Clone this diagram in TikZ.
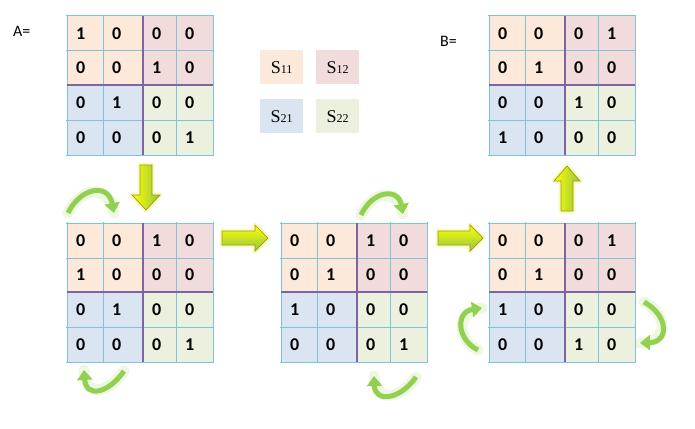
\documentclass[tikz,border=0pt]{standalone}
\usepackage{fontspec}
\setmainfont{Carlito}
\newfontfamily\legfont{Liberation Serif}
\usetikzlibrary{arrows.meta}
\definecolor{cA}{HTML}{FDE9D9}
\definecolor{cB}{HTML}{F2DCDB}
\definecolor{cC}{HTML}{DBE5F1}
\definecolor{cD}{HTML}{EBF1DE}
\definecolor{gridc}{HTML}{7EC4D8}
\definecolor{divc}{HTML}{8064A2}
\definecolor{lgreen}{HTML}{92D050}
\definecolor{olivec}{HTML}{9A9A10}
\tikzset{
  gridline/.style={draw=gridc, line width=1pt},
  divline/.style={draw=divc, line width=2pt},
  digit/.style={anchor=west, inner sep=0pt, font=\fontsize{18}{21}\selectfont\bfseries},
  lbl/.style={anchor=base west, inner sep=0pt, font=\fontsize{16}{19}\selectfont},
  legbox/.style={minimum width=43pt, minimum height=34pt, inner sep=0pt, anchor=north west},
  blockarrow/.style={draw=olivec, line width=0.7pt},
  glow/.style={draw=yellow!80!lgreen, line width=5pt, opacity=0.25, line join=round},
  curvearrow/.style={draw=lgreen, line width=5pt, -{Triangle[length=10pt,width=15pt]}},
  curveglow/.style={draw=lgreen, line width=11pt, opacity=0.16, line cap=round},
}
\newcommand\drawmat[3]{%
  \begin{scope}[shift={#2}]
    \fill[cA] (0,0) rectangle (76,69);
    \fill[cB] (76,0) rectangle (146,69);
    \fill[cC] (0,69) rectangle (76,139);
    \fill[cD] (76,69) rectangle (146,139);
    \foreach \xx in {0,36,109,146} \draw[gridline] (\xx,-1) -- (\xx,140);
    \foreach \yy in {0,35,104,139} \draw[gridline] (-1,\yy) -- (147,\yy);
    \draw[divline] (76,0) -- (76,139);
    \draw[divline] (0,69) -- (146,69);
    \foreach \v [count=\i from 0] in {#3} {
      \pgfmathtruncatemacro\rr{int(\i/4)}
      \pgfmathtruncatemacro\cc{mod(\i,4)}
      \pgfmathsetmacro\cx{{0,36,76,109}[\cc]+9}
      \pgfmathsetmacro\cy{{17.5,52,86.5,121.5}[\rr]}
      \node[digit] (#1-\i) at (\cx,\cy) {\v};
    }
  \end{scope}}
\begin{document}
\begin{tikzpicture}[x=1pt,y=-1pt]
\useasboundingbox (0,0) rectangle (695,428);
\fill[white] (0,0) rectangle (695,428);

% matrices
\drawmat{A}{(67,16)}{1,0,0,0, 0,0,1,0, 0,1,0,0, 0,0,0,1}
\drawmat{M}{(67,223)}{0,0,1,0, 1,0,0,0, 0,1,0,0, 0,0,0,1}
\drawmat{N}{(281,223)}{0,0,1,0, 0,1,0,0, 1,0,0,0, 0,0,0,1}
\drawmat{P}{(489,223)}{0,0,0,1, 0,1,0,0, 1,0,0,0, 0,0,1,0}
\drawmat{B}{(489,16)}{0,0,0,1, 0,1,0,0, 0,0,1,0, 1,0,0,0}

% labels
\node[lbl] (lA) at (13,37) {A=};
\node[lbl] (lB) at (440,46) {B=};

% legend
\node[legbox, fill=cA] (s11) at (260,50) {\legfont\fontsize{18}{20}\selectfont S\fontsize{12}{14}\selectfont 11};
\node[legbox, fill=cB] (s12) at (316,50) {\legfont\fontsize{18}{20}\selectfont S\fontsize{12}{14}\selectfont 12};
\node[legbox, fill=cC] (s21) at (260,99) {\legfont\fontsize{18}{20}\selectfont S\fontsize{12}{14}\selectfont 21};
\node[legbox, fill=cD] (s22) at (316,99) {\legfont\fontsize{18}{20}\selectfont S\fontsize{12}{14}\selectfont 22};

% block arrows
% down arrow
\draw[glow] (140,165) -- (152,165) -- (152,195) -- (160,195) -- (146,210) -- (132,195) -- (140,195) -- cycle;
\shade[left color=yellow, right color=lgreen!80!olivec, blockarrow]
  (140,165) -- (152,165) -- (152,195) -- (160,195) -- (146,210) -- (132,195) -- (140,195) -- cycle;
% up arrow
\draw[glow] (561,211) -- (573,211) -- (573,181) -- (580,181) -- (567,166) -- (554,181) -- (561,181) -- cycle;
\shade[left color=yellow, right color=lgreen!80!olivec, blockarrow]
  (561,211) -- (573,211) -- (573,181) -- (580,181) -- (567,166) -- (554,181) -- (561,181) -- cycle;
% right arrows
\foreach \sx/\hx/\tx in {222/255/268, 438/470/483} {
  \draw[glow] (\sx,231) -- (\hx,231) -- (\hx,225) -- (\tx,238) -- (\hx,251) -- (\hx,245) -- (\sx,245) -- cycle;
  \shade[top color=yellow, bottom color=lgreen!80!olivec, blockarrow]
    (\sx,231) -- (\hx,231) -- (\hx,225) -- (\tx,238) -- (\hx,251) -- (\hx,245) -- (\sx,245) -- cycle;
}

% curved arrows
\coordinate (c1s) at (68,213);  \coordinate (c1e) at (114,213);
\coordinate (c2s) at (124,371); \coordinate (c2e) at (84,370);
\coordinate (c3s) at (361,215); \coordinate (c3e) at (403,214);
\coordinate (c4s) at (416,377); \coordinate (c4e) at (374,376);
\coordinate (c5s) at (478,350); \coordinate (c5e) at (482,308);
\coordinate (c6s) at (644,302); \coordinate (c6e) at (640,343);

\draw[curveglow] (c1s) .. controls (80,188) and (108,182) .. (c1e);
\draw[curvearrow] (c1s) .. controls (80,188) and (108,182) .. (c1e);
\draw[curveglow] (c2s) .. controls (108,394) and (86,398) .. (c2e);
\draw[curvearrow] (c2s) .. controls (108,394) and (86,398) .. (c2e);
\draw[curveglow] (c3s) .. controls (372,191) and (398,187) .. (c3e);
\draw[curvearrow] (c3s) .. controls (372,191) and (398,187) .. (c3e);
\draw[curveglow] (c4s) .. controls (400,400) and (375,403) .. (c4e);
\draw[curvearrow] (c4s) .. controls (400,400) and (375,403) .. (c4e);
\draw[curveglow] (c5s) .. controls (457,340) and (455,312) .. (c5e);
\draw[curvearrow] (c5s) .. controls (457,340) and (455,312) .. (c5e);
\draw[curveglow] (c6s) .. controls (668,315) and (670,342) .. (c6e);
\draw[curvearrow] (c6s) .. controls (668,315) and (670,342) .. (c6e);
\end{tikzpicture}
\end{document}
